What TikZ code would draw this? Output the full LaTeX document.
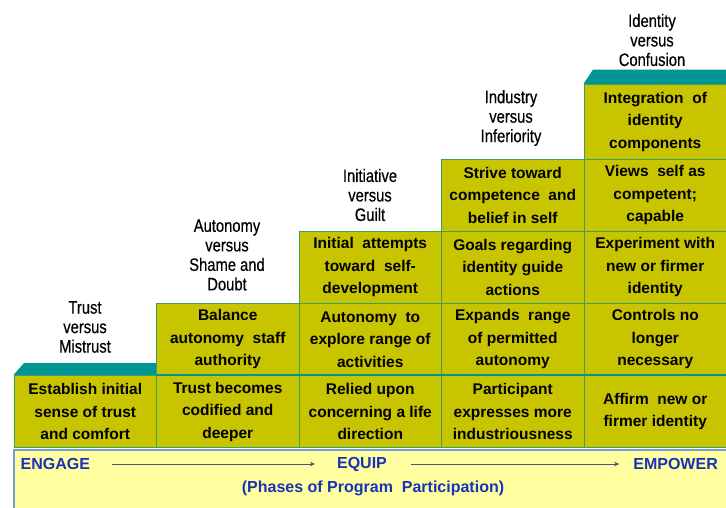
\documentclass[tikz,border=0pt]{standalone}
\usepackage{fontspec}
\setmainfont{Liberation Sans}
\newfontfamily\labfont[FakeStretch=0.82,FakeBold=0.4]{Liberation Sans}
\newfontfamily\cellfontfam{Liberation Sans}
\usetikzlibrary{arrows.meta}
\definecolor{olivefill}{RGB}{200,196,0}
\definecolor{tealtop}{RGB}{0,150,150}
\definecolor{cellborder}{RGB}{60,160,90}
\definecolor{bandfill}{RGB}{255,255,160}
\definecolor{bandborder}{RGB}{110,160,210}
\definecolor{phaseblue}{RGB}{25,50,185}
\definecolor{arrowgray}{RGB}{70,90,120}
\tikzset{
  cell/.style={draw=cellborder, line width=1pt, fill=olivefill, anchor=north west,
    minimum width=142.5pt, inner sep=0pt, align=center,
    font={\cellfontfam\bfseries\fontsize{15.5}{22.5}\selectfont}},
  lab/.style={align=center, inner sep=0pt, font={\labfont\fontsize{18}{19.5}\selectfont}},
  phase/.style={inner sep=0pt, text=phaseblue, font={\bfseries\fontsize{16}{19}\selectfont}},
  arr/.style={draw=arrowgray, line width=0.9pt, -{Stealth[length=5pt,width=4.5pt]}},
  bevel/.style={fill=tealtop, draw=none}
}
\begin{document}
\begin{tikzpicture}[x=1pt,y=-1pt]
\useasboundingbox (0,0) rectangle (726,507);
\fill[white] (0,0) rectangle (726,507);
\clip (0,0) rectangle (726,507);
% bevels
\path[bevel] (13.5,375) -- (24,363) -- (156,363) -- (156,375) -- cycle;
\path[bevel] (583.5,84) -- (593,69.5) -- (727,69.5) -- (727,84) -- cycle;
% row 1
\node[cell, minimum height=72pt] (c11) at (13.5,375) {Establish initial\\sense of trust\\and comfort};
\node[cell, minimum height=72pt] (c21) at (156,375) {Trust becomes\\codified and\\deeper};
\node[cell, minimum height=72pt] (c31) at (298.5,375) {Relied upon\\concerning a life\\direction};
\node[cell, minimum height=72pt] (c41) at (441,375) {Participant\\expresses more\\industriousness};
\node[cell, minimum height=72pt] (c51) at (583.5,375) {Affirm\ \ new or\\firmer identity};
% row 2
\node[cell, minimum height=72.5pt] (c22) at (156,302.5) {Balance\\autonomy\ \ staff\\authority};
\node[cell, minimum height=72.5pt] (c32) at (298.5,302.5) {Autonomy\ \ to\\explore range of\\activities};
\node[cell, minimum height=72.5pt] (c42) at (441,302.5) {Expands\ \ range\\of permitted\\autonomy};
\node[cell, minimum height=72.5pt] (c52) at (583.5,302.5) {Controls no\\longer\\necessary};
% teal line on top of row 1
\draw[tealtop, line width=2.5pt] (156,375) -- (727,375);
% row 3
\node[cell, minimum height=71.5pt] (c33) at (298.5,231) {Initial\ \ attempts\\toward\ \ self-\\development};
\node[cell, minimum height=71.5pt] (c43) at (441,231) {Goals regarding\\identity guide\\actions};
\node[cell, minimum height=71.5pt] (c53) at (583.5,231) {Experiment with\\new or firmer\\identity};
% row 4
\node[cell, minimum height=72.5pt] (c44) at (441,158.5) {Strive toward\\competence\ \ and\\belief in self};
\node[cell, minimum height=72.5pt] (c54) at (583.5,158.5) {Views\ \ self as\\competent;\\capable};
% row 5
\node[cell, minimum height=74.5pt] (c55) at (583.5,84) {Integration\ \ of\\identity\\components};
% stage labels
\node[lab] (l1) at (85,327) {Trust\\versus\\Mistrust};
\node[lab] (l2) at (227,255) {Autonomy\\versus\\Shame and\\Doubt};
\node[lab] (l3) at (370,195) {Initiative\\versus\\Guilt};
\node[lab] (l4) at (511,118) {Industry\\versus\\Inferiority};
\node[lab] (l5) at (652,40) {Identity\\versus\\Confusion};
% phase band
\node[draw=bandborder, fill=bandfill, line width=2pt, anchor=north west, inner sep=0pt,
  minimum width=716pt, minimum height=62pt] (band) at (12.5,448.5) {};
\node[phase, anchor=west] (engage) at (20.5,464) {ENGAGE};
\node[phase] (equip) at (362,464) {EQUIP};
\node[phase, anchor=east] (empower) at (718,464) {EMPOWER};
\node[phase] (phases) at (373,488) {(Phases of Program\ \ Participation)};
\draw[arr, shorten <=22pt, shorten >=22pt] (engage) -- (equip);
\draw[arr, shorten <=24pt, shorten >=14pt] (equip) -- (empower);
\end{tikzpicture}
\end{document}
